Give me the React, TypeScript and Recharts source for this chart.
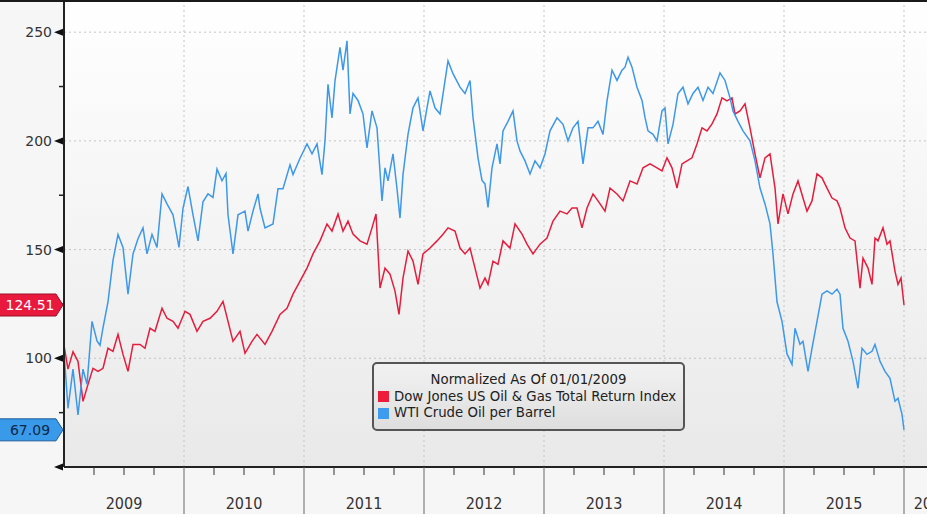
import React from 'react';
import { LineChart, Line, XAxis, YAxis, CartesianGrid } from 'recharts';

// time axis is months since 01/01/2009
const yearLabels = ['2009', '2010', '2011', '2012', '2013', '2014', '2015', '2016'];
const yearStarts = [0, 12, 24, 36, 48, 60, 72, 84];
const labelMonths = [6, 18, 30, 42, 54, 66, 78, 86.8];
const majorValues = [50, 100, 150, 200, 250];
const minorValues = [75, 125, 175, 225];

const redMonths = [
  0, 0.4, 0.9, 1.4, 1.9, 2.4, 2.9, 3.4, 3.9, 4.4, 4.9, 5.4, 5.9, 6.4, 6.9, 7.6, 8.1, 8.6, 9.1, 9.8,
  10.3, 10.9, 11.4, 12.1, 12.6, 13.3, 13.9, 14.6, 15.3, 15.9, 16.4, 16.9, 17.6, 18.1, 18.8, 19.3, 20.1, 20.8, 21.6, 22.3,
  22.9, 23.6, 24.3, 24.9, 25.6, 26.3, 26.8, 27.4, 27.9, 28.4, 28.9, 29.6, 30.3, 30.8, 31.2, 31.6, 32.1, 32.6, 33.1, 33.5,
  33.9, 34.4, 34.9, 35.4, 35.9, 36.6, 37.3, 37.9, 38.4, 39.1, 39.6, 40.1, 40.6, 41.1, 41.6, 42.1, 42.4, 42.9, 43.4, 43.9,
  44.6, 45.1, 45.8, 46.3, 46.9, 47.6, 48.3, 48.9, 49.6, 50.3, 50.8, 51.3, 51.8, 52.3, 52.9, 53.4, 54.1, 54.6, 55.3, 55.9,
  56.6, 57.3, 57.9, 58.6, 59.3, 59.8, 60.3, 60.8, 61.3, 61.8, 62.3, 62.8, 63.3, 63.8, 64.3, 64.8, 65.3, 65.8, 66.3, 66.8,
  67.1, 67.6, 68.1, 68.6, 69.1, 69.6, 70.1, 70.6, 71.1, 71.4, 71.9, 72.4, 72.9, 73.4, 73.9, 74.3, 74.8, 75.3, 75.8, 76.3,
  76.8, 77.3, 77.6, 78.1, 78.6, 79.1, 79.6, 79.9, 80.4, 80.8, 81.1, 81.4, 81.9, 82.3, 82.6, 83.1, 83.4, 83.7, 84.0,
];
const redValues = [
  106, 95, 103, 98.6, 80.2, 88, 95.4, 94, 95.4, 104.6, 103.2, 111, 101.8, 94, 106.4, 106.4, 104.6, 113.8, 112.4, 123,
  118.4, 117, 113.8, 121.6, 120.2, 112.4, 117, 118.4, 121.6, 126.2, 117, 107.8, 112.4, 102.3, 107.8, 111, 106.4, 112.4, 120.2, 123,
  129.5, 135.5, 141.5, 148, 154, 161.8, 158.5, 166.4, 158.5, 163.1, 157.1, 154, 152.5, 160, 166.4, 132.3, 141.5, 138.7, 130.9, 120.2,
  136.9, 149.3, 144.7, 134, 148, 150.7, 154, 157.1, 160, 158.5, 150.7, 148, 150.7, 141.5, 132.3, 136.9, 134, 144.7, 143.2, 154,
  150.7, 161.8, 157.1, 152.5, 148, 152.5, 155.3, 163.1, 167.7, 166.4, 169.1, 169.1, 160, 169.1, 175.6, 172.4, 167.7, 178.3, 175.6, 172.4,
  181.6, 180.2, 187.6, 189.4, 187.6, 186.2, 192.2, 187.6, 178.3, 189.4, 190.8, 192.2, 198.6, 206, 204.6, 207.8, 212.4, 219.8, 218.4, 219.8,
  212.4, 213.8, 217, 206, 194, 183, 192.2, 194, 178.3, 161.8, 175.6, 166.4, 175.6, 181.6, 173.7, 167.7, 172.4, 184.8, 183, 178.3,
  173.7, 172.4, 169.1, 160, 155.3, 154, 132.3, 146.1, 141.5, 134, 155.3, 154, 160, 152.5, 154, 140, 134, 136.9, 124.51,
];

const blueMonths = [
  0, 0.4, 0.9, 1.4, 1.9, 2.3, 2.8, 3.3, 3.6, 3.9, 4.4, 4.9, 5.4, 5.9, 6.4, 6.9, 7.4, 7.9, 8.3, 8.8,
  9.3, 9.8, 10.3, 10.9, 11.5, 11.9, 12.4, 12.9, 13.4, 13.9, 14.4, 14.9, 15.3, 15.8, 16.2, 16.4, 16.9, 17.4, 18.1, 18.4,
  18.9, 19.4, 19.6, 20.1, 20.9, 21.4, 21.9, 22.6, 22.9, 23.6, 24.3, 24.8, 25.3, 25.8, 26.1, 26.4, 26.8, 27.1, 27.6, 27.9,
  28.3, 28.6, 28.9, 29.4, 29.9, 30.3, 30.8, 31.3, 31.8, 32.1, 32.4, 32.9, 33.3, 33.6, 33.9, 34.4, 34.9, 35.4, 35.9, 36.6,
  37.1, 37.6, 38.4, 38.9, 39.6, 40.1, 40.6, 40.9, 41.4, 41.8, 42.1, 42.4, 42.8, 43.3, 43.6, 43.9, 44.4, 44.9, 45.3, 45.6,
  46.1, 46.6, 47.1, 47.6, 48.1, 48.6, 49.3, 49.9, 50.4, 50.9, 51.4, 51.9, 52.4, 52.9, 53.4, 53.9, 54.3, 54.8, 55.3, 55.8,
  56.1, 56.4, 56.8, 57.3, 57.8, 58.1, 58.4, 58.9, 59.3, 59.8, 60.1, 60.4, 60.9, 61.4, 61.9, 62.4, 62.9, 63.4, 63.9, 64.4,
  64.9, 65.6, 66.1, 66.6, 66.9, 67.4, 67.9, 68.6, 69.1, 69.6, 70.1, 70.6, 70.9, 71.3, 71.8, 72.3, 72.8, 73.1, 73.6, 73.9,
  74.4, 74.8, 75.3, 75.8, 76.3, 76.8, 77.3, 77.6, 77.9, 78.4, 78.9, 79.4, 79.8, 80.3, 80.8, 81.1, 81.6, 82.1, 82.6, 83.1,
  83.4, 83.8, 84.0,
];
const blueValues = [
  103, 77, 95, 74, 95, 88, 117, 108, 106, 114, 126, 145, 157, 151, 129.5, 148, 155, 160, 148, 157,
  151, 175.6, 171, 166, 151, 169, 179, 166, 154, 172, 175.6, 174, 187, 181.6, 185, 166, 148, 166, 167.7, 158.5,
  167.7, 175.6, 169, 160, 161.8, 178, 178, 189, 184.5, 192, 198.6, 194, 198.6, 184.5, 200, 226, 210.6, 227.6, 243, 232.5,
  246, 212.4, 221.8, 218.6, 212.4, 196.8, 213.8, 206, 172.4, 187.6, 181.6, 194, 178, 164.5, 184.5, 203, 215.2, 219.8, 204.6, 223,
  215.2, 212.4, 236.8, 230.9, 224.7, 221.8, 227.8, 210.8, 192.2, 181.8, 180.2, 169.4, 187.6, 198.6, 189.4, 204.6, 209, 213.8, 200, 195.4,
  190.8, 184.8, 190.8, 187.6, 194, 204.6, 210.6, 207.6, 200, 206, 209, 189.4, 206, 206, 209, 203, 218.4, 232.5, 227.8, 232.5,
  233.9, 238.5, 233.9, 224.7, 218.6, 210.8, 204.6, 203, 200, 213.8, 215.2, 198.6, 207.6, 221.8, 224.7, 217, 221.8, 224.7, 218.6, 224.7,
  221.8, 231.3, 227.8, 219.8, 213.8, 209, 204.6, 200, 190.8, 178.3, 171, 161.8, 148, 126, 117, 102, 97.2, 113.8, 106.4, 107.8,
  94, 104.6, 117, 129.5, 131, 129.5, 131.8, 129.5, 113.8, 107.8, 98.6, 86.2, 104.6, 101.8, 103.2, 106.4, 98.6, 94, 90.8, 80.2,
  81.6, 74.2, 67.09,
];

const RED = '#e51d3c';
const BLUE = '#3d98ea';

const redData = redMonths.map((m, i) => ({ m, v: redValues[i] }));
const blueData = blueMonths.map((m, i) => ({ m, v: blueValues[i] }));

const valueTags = [
  { value: redValues[redValues.length - 1], fill: '#e8193c', border: '#9c1026', text: '#ffffff' },
  { value: blueValues[blueValues.length - 1], fill: '#3a9aea', border: '#1c5c9c', text: '#0f2748' },
];

const quarterTicks = yearStarts.flatMap((s) => [s + 3, s + 6, s + 9]);
const xTicks = Array.from(new Set([...yearStarts, ...quarterTicks, ...labelMonths])).sort((a, b) => a - b);
const yTicks = [...majorValues, ...minorValues, ...valueTags.map((t) => t.value)];

function YTick(props: any) {
  const { x, y, payload } = props;
  const v = payload.value;
  const tag = valueTags.find((t) => t.value === v);
  if (tag) {
    return (
      <g>
        <path
          d={`M${x - 66} ${y - 11} H${x - 8} L${x - 1} ${y} L${x - 8} ${y + 11} H${x - 66} Z`}
          fill={tag.fill}
          stroke={tag.border}
          strokeWidth={1}
        />
        <text x={x - 34} y={y} textAnchor="middle" dominantBaseline="central" fill={tag.text} fontSize={14} fontFamily="'DejaVu Sans', sans-serif">
          {v.toFixed(2)}
        </text>
      </g>
    );
  }
  if (v % 50 === 0) {
    // the bottom tick (50) has only the marker, no label
    return (
      <g>
        <path d={`M${x - 10} ${y} L${x - 1} ${y - 3.5} L${x - 1} ${y + 3.5} Z`} fill="#111" />
        {v > majorValues[0] && (
          <text x={x - 12} y={y} textAnchor="end" dominantBaseline="central" fill="#333" fontSize={14} fontFamily="'DejaVu Sans', sans-serif">
            {v}
          </text>
        )}
      </g>
    );
  }
  return <line x1={x - 5} x2={x} y1={y} y2={y} stroke="#222" strokeWidth={1.5} />;
}

function XTick(props: any) {
  const { x, y, payload } = props;
  const v = payload.value;
  const li = labelMonths.indexOf(v);
  return (
    <g>
      {yearStarts.includes(v) && v > 0 && <line x1={x} x2={x} y1={y} y2={y + 48} stroke="#666" strokeWidth={1} />}
      {quarterTicks.includes(v) && <line x1={x} x2={x} y1={y} y2={y + 8} stroke="#333" strokeWidth={1} />}
      {li >= 0 && (
        <text x={x} y={y + 42} textAnchor="middle" fill="#333" fontSize={16} fontFamily="'Liberation Sans Narrow', 'DejaVu Sans Condensed', 'Roboto', sans-serif">
          {yearLabels[li]}
        </text>
      )}
    </g>
  );
}

export default function App() {
  return (
    <div style={{ position: 'absolute', left: 0, top: 0, width: 927, height: 514, overflow: 'hidden', background: '#f6f6f6' }}>
      <LineChart width={960} height={514} margin={{ top: 0, right: 0, bottom: 0, left: 0 }}>
        <defs>
          <linearGradient id="plotBg" x1="0" y1="0" x2="0" y2="1">
            <stop offset="0%" stopColor="#ffffff" />
            <stop offset="100%" stopColor="#e9e9e9" />
          </linearGradient>
        </defs>
        <CartesianGrid
          fill="url(#plotBg)"
          stroke="#c4c4c4"
          strokeDasharray="2 3"
          horizontalValues={majorValues}
          verticalValues={yearStarts.slice(1)}
        />
        <XAxis
          type="number"
          dataKey="m"
          domain={[0, 89.6]}
          ticks={xTicks}
          interval={0}
          height={47}
          tickSize={0}
          tickMargin={0}
          tickLine={false}
          axisLine={{ stroke: '#222', strokeWidth: 2 }}
          tick={<XTick />}
          allowDataOverflow
        />
        <YAxis
          type="number"
          domain={[50, 264.8]}
          ticks={yTicks}
          interval={0}
          width={64}
          tickSize={0}
          tickMargin={0}
          tickLine={false}
          axisLine={{ stroke: '#222', strokeWidth: 2 }}
          tick={<YTick />}
          allowDataOverflow
        />
        <Line data={redData} dataKey="v" type="linear" stroke={RED} strokeWidth={1.5} dot={false} isAnimationActive={false} />
        <Line data={blueData} dataKey="v" type="linear" stroke={BLUE} strokeWidth={1.5} dot={false} isAnimationActive={false} />
      </LineChart>
      <div style={{ position: 'absolute', left: 0, top: 0, width: 927, height: 2, background: '#1a1a1a' }} />
      <div
        style={{
          position: 'absolute',
          left: 372,
          top: 362,
          width: 309,
          height: 65,
          border: '2px solid #555',
          borderRadius: 5,
          background: 'linear-gradient(#f2f2f2, #dedede)',
          fontFamily: "'DejaVu Sans', sans-serif",
          fontSize: 13.3,
          color: '#222',
          lineHeight: '16.5px',
          whiteSpace: 'nowrap',
        }}
      >
        <div style={{ textAlign: 'center', marginTop: 8 }}>Normalized As Of 01/01/2009</div>
        <div style={{ display: 'flex', alignItems: 'center', marginLeft: 4 }}>
          <span style={{ width: 11, height: 11, background: '#ee1c3a', marginRight: 5, display: 'inline-block', flexShrink: 0 }} />
          Dow Jones US Oil &amp; Gas Total Return Index
        </div>
        <div style={{ display: 'flex', alignItems: 'center', marginLeft: 4 }}>
          <span style={{ width: 11, height: 11, background: '#3d9cf0', marginRight: 5, display: 'inline-block', flexShrink: 0 }} />
          WTI Crude Oil per Barrel
        </div>
      </div>
    </div>
  );
}
